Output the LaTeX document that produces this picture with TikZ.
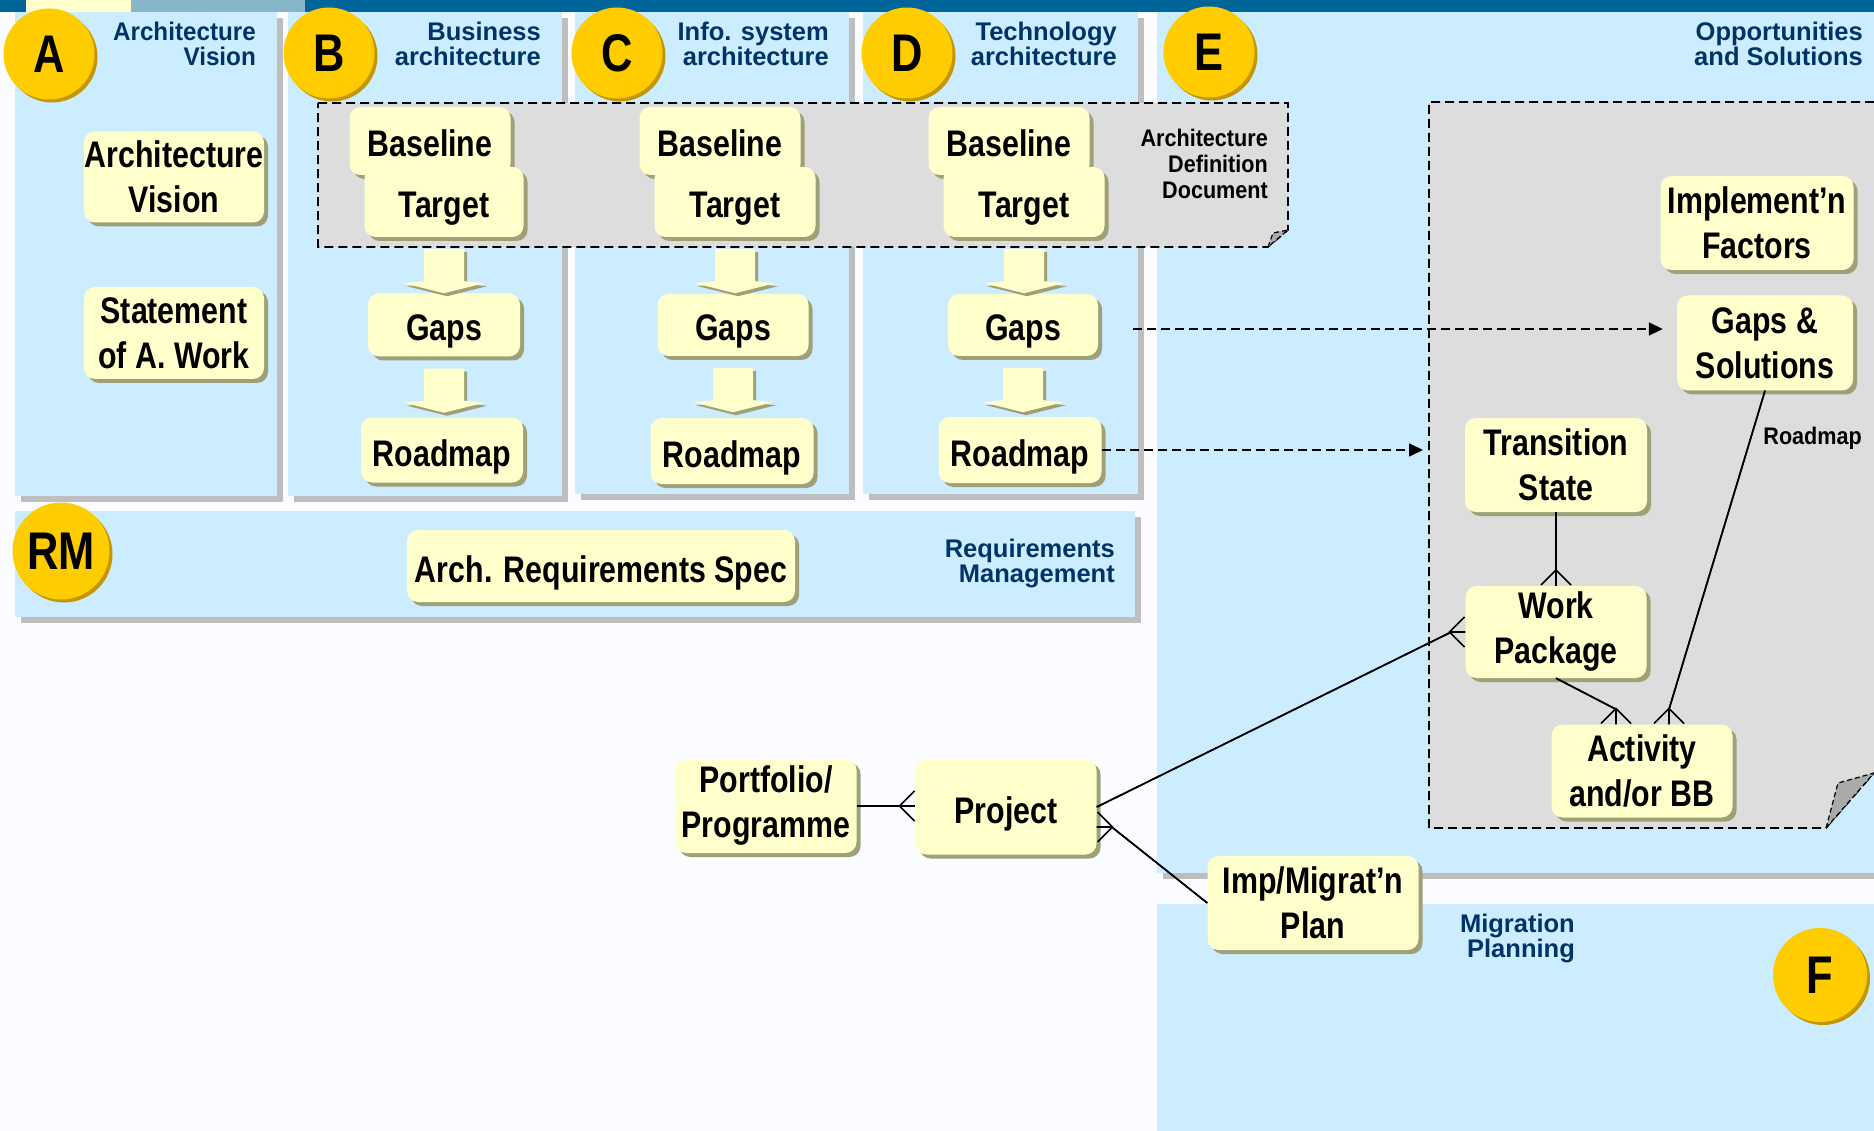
\documentclass[tikz,border=0pt]{standalone}
\usepackage{fontspec}
\setmainfont{Liberation Sans}
\newfontfamily\narrowsf{Liberation Sans}[FakeStretch=0.82]
\newfontfamily\notesf{Liberation Sans}[FakeStretch=0.9]
\newfontfamily\slimsf{Liberation Sans}[FakeStretch=0.95]
\usetikzlibrary{arrows.meta,shadows}

\definecolor{pagewhite}{RGB}{250,252,255}
\definecolor{panelblue}{RGB}{204,236,255}
\definecolor{panelshade}{RGB}{190,190,190}
\definecolor{barblue}{RGB}{0,102,153}
\definecolor{barsteel}{RGB}{135,181,200}
\definecolor{baryellow}{RGB}{255,255,204}
\definecolor{titleblue}{RGB}{0,51,102}
\definecolor{notegray}{RGB}{221,221,221}
\definecolor{flapgray}{RGB}{170,170,170}
\definecolor{boxyellow}{RGB}{255,255,204}
\definecolor{boxshade}{RGB}{160,160,120}
\definecolor{gold}{RGB}{255,204,0}
\definecolor{goldshade}{RGB}{196,150,0}

\tikzset{
  panel/.style={fill=panelblue,drop shadow={shadow xshift=6pt,shadow yshift=-6pt,fill=panelshade,opacity=1}},
  phase/.style={anchor=north east,inner sep=0pt,align=right,text=titleblue,font=\bfseries\fontsize{25.5}{25}\selectfont},
  badge/.style={circle,fill=gold,minimum size=91pt,inner sep=0pt,font=\narrowsf\bfseries\fontsize{53}{53}\selectfont,drop shadow={shadow xshift=3pt,shadow yshift=-3pt,fill=goldshade,opacity=1}},
  item/.style={rectangle,rounded corners=11pt,fill=boxyellow,inner sep=0pt,align=center,font=\narrowsf\bfseries\fontsize{37}{45}\selectfont,drop shadow={shadow xshift=4pt,shadow yshift=-4pt,fill=boxshade,opacity=1}},
  oneline/.style={text height=32pt,text depth=0pt},
  note/.style={fill=notegray},
  noteline/.style={draw=black,line width=1.6pt,dash pattern=on 9pt off 5pt},
  flap/.style={fill=flapgray,draw=black,line width=1.2pt,dash pattern=on 5pt off 3pt},
  notetext/.style={inner sep=0pt,align=right,font=\notesf\bfseries\fontsize{24}{26}\selectfont},
  flow/.style={fill=boxyellow,drop shadow={shadow xshift=3pt,shadow yshift=-3pt,fill=boxshade,opacity=1}},
  link/.style={line width=1.6pt},
  crow/.style={postaction={draw,line width=1.6pt,-{Straight Barb[reversed,length=15pt,width=30pt]}}},
  feed/.style={line width=1.6pt,dash pattern=on 9pt off 5pt,-{Triangle[length=14pt,width=13pt]}},
  pics/gaparrow/.style={code={
    \path[flow] (-20,12) -- (20,12) -- (20,44) -- (40,46) -- (0,56) -- (-40,46) -- (-20,44) -- cycle;
  }}
}

\begin{document}
\begin{tikzpicture}[x=1pt,y=-1pt]
  \useasboundingbox (0,0) rectangle (1874,1131);
  \fill[pagewhite] (0,0) rectangle (1874,1131);

  % top bar
  \fill[barblue] (0,0) rectangle (1874,12);
  \fill[baryellow] (26,0) rectangle (131,12);
  \fill[barsteel] (131,0) rectangle (305,12);

  % phase panels
  \path[panel] (15,12) rectangle (277,496);
  \path[panel] (288,12) rectangle (562,496);
  \path[panel] (575,12) rectangle (849,494);
  \path[panel] (863,12) rectangle (1138,494);
  \path[panel] (1157,12) rectangle (1874,873);
  \path[panel] (15,511) rectangle (1135,617);
  \path[panel] (1157,904) rectangle (1874,1131);

  % architecture definition document
  \path[note] (318,103) -- (1288,103) -- (1288,230) -- (1268,247) -- (318,247) -- cycle;
  \path[noteline] (318,103) -- (1288,103) -- (1288,230) -- (1268,247) -- (318,247) -- cycle;
  \path[flap] (1268,247) -- (1273,233) -- (1288,230) -- cycle;
  \node[notetext,anchor=north east] (addtxt) at (1268,129) {Architecture\\Definition\\Document};

  % opportunities note
  \coordinate (opsnw) at (1429,102);
  \path[note] (opsnw) -- (1874,102) -- (1874,773) -- (1826,828) -- (1429,828) -- cycle;
  \path[noteline] (1874,102) -- (opsnw) -- (1429,828) -- (1826,828) -- (1874,773);
  \path[flap] (1826,828) -- (1838,783) -- (1874,773) -- cycle;

  % badges and titles
  \node[badge] (phA) at (49,54) {A};
  \node[badge] (phB) at (329,53) {B};
  \node[badge] (phC) at (617,53) {C};
  \node[badge] (phD) at (907,53) {D};
  \node[badge] (phE) at (1209,52) {E};
  \node[badge,minimum size=97pt] (phRM) at (61,551) {RM};
  \node[badge,minimum size=94pt] (phF) at (1820,975) {F};

  \node[phase,font=\slimsf\bfseries\fontsize{25.5}{25}\selectfont] (ttlA) at (256,22) {Architecture\\Vision};
  \node[phase] (ttlB) at (541,22) {Business\\architecture};
  \node[phase] (ttlC) at (829,22) {Info. system\\architecture};
  \node[phase] (ttlD) at (1117,22) {Technology\\architecture};
  \node[phase] (ttlE) at (1863,22) {Opportunities\\and Solutions};
  \node[phase] (ttlRM) at (1115,539) {Requirements\\Management};
  \node[phase] (ttlF) at (1575,914) {Migration\\Planning};

  % phase A
  \node[item,minimum width=180pt,minimum height=91pt] (avision) at (174,177) {Architecture\\Vision};
  \node[item,minimum width=180pt,minimum height=92pt] (sow) at (174,333) {Statement\\of A. Work};

  % phases B, C, D
  \node[item,oneline,minimum width=161pt,minimum height=68pt] (baseB) at (430,141) {Baseline};
  \node[item,oneline,minimum width=159pt,minimum height=70pt] (targetB) at (444,202) {Target};
  \node[item,oneline,minimum width=161pt,minimum height=68pt] (baseC) at (720,141) {Baseline};
  \node[item,oneline,minimum width=161pt,minimum height=70pt] (targetC) at (735,202) {Target};
  \node[item,oneline,minimum width=161pt,minimum height=68pt] (baseD) at (1009,141) {Baseline};
  \node[item,oneline,minimum width=161pt,minimum height=70pt] (targetD) at (1024,202) {Target};

  \node[item,oneline,minimum width=152pt,minimum height=63pt] (gapsB) at (444,325) {Gaps};
  \node[item,oneline,minimum width=151pt,minimum height=62pt] (gapsC) at (733,325) {Gaps};
  \node[item,oneline,minimum width=150pt,minimum height=62pt] (gapsD) at (1023,325) {Gaps};

  \node[item,oneline,minimum width=162pt,minimum height=65pt] (roadB) at (442,450) {Roadmap};
  \node[item,oneline,minimum width=163pt,minimum height=66pt] (roadC) at (732,451) {Roadmap};
  \node[item,oneline,minimum width=163pt,minimum height=66pt] (roadD) at (1020,450) {Roadmap};

  \pic at (targetB.south) {gaparrow};
  \pic at (targetC.south) {gaparrow};
  \pic at (targetD.south) {gaparrow};
  \pic at (gapsB.south) {gaparrow};
  \pic at (gapsC.south) {gaparrow};
  \pic at (gapsD.south) {gaparrow};

  % requirements
  \node[item,oneline,minimum width=388pt,minimum height=72pt] (ars) at (601,566) {Arch. Requirements Spec};

  % phase E / F
  \node[item,minimum width=193pt,minimum height=94pt] (impl) at (1757,223) {Implement’n\\Factors};
  \node[item,minimum width=176pt,minimum height=95pt] (gapsol) at (1765,343) {Gaps \&\\Solutions};
  \node[item,minimum width=182pt,minimum height=94pt] (trans) at (1556,465) {Transition\\State};
  \node[item,minimum width=181pt,minimum height=92pt] (wp) at (1556,632) {Work\\Package};
  \node[item,minimum width=181pt,minimum height=93pt] (act) at (1642,771) {Activity\\and/or BB};
  \node[item,minimum width=181pt,minimum height=94pt] (portf) at (766,806) {Portfolio/\\Programme};
  \node[item,oneline,minimum width=181pt,minimum height=95pt] (proj) at (1006,807) {Project};
  \node[item,minimum width=211pt,minimum height=94pt] (plan) at (1313,903) {Imp/Migrat’n\\Plan};

  % feeds into E
  \draw[feed] ([xshift=35pt,yshift=-4pt]gapsD.east) -- ([xshift=-14pt,yshift=-4pt]gapsD.east -| gapsol.west);
  \draw[feed] (roadD.east) -- ([xshift=-6pt]roadD.east -| opsnw);

  % relationships
  \coordinate (projfoot) at ([xshift=15pt,yshift=-20pt]proj.east);
  \coordinate (wpfoot) at ([xshift=-14pt]wp.west);
  \coordinate (actfootL) at ([xshift=-26pt,yshift=15pt]act.north);
  \coordinate (actfootR) at ([xshift=27pt,yshift=15pt]act.north);
  \draw[link,crow] (trans.south) -- (wp.north);
  \draw[link,crow] (wp.south) -- (actfootL) -- (actfootL |- act.north);
  \draw[link,crow] (gapsol.south) -- node[pos=0.15,anchor=west,xshift=12pt,notetext] {Roadmap} (actfootR) -- (actfootR |- act.north);
  \draw[link,crow] (proj.east) -- (wpfoot) -- (wp.west);
  \draw[link,crow] (portf.east) -- (portf.east -| proj.west);
  \draw[link,crow] (plan.west) -- (projfoot) -- (projfoot -| proj.east);
\end{tikzpicture}
\end{document}
